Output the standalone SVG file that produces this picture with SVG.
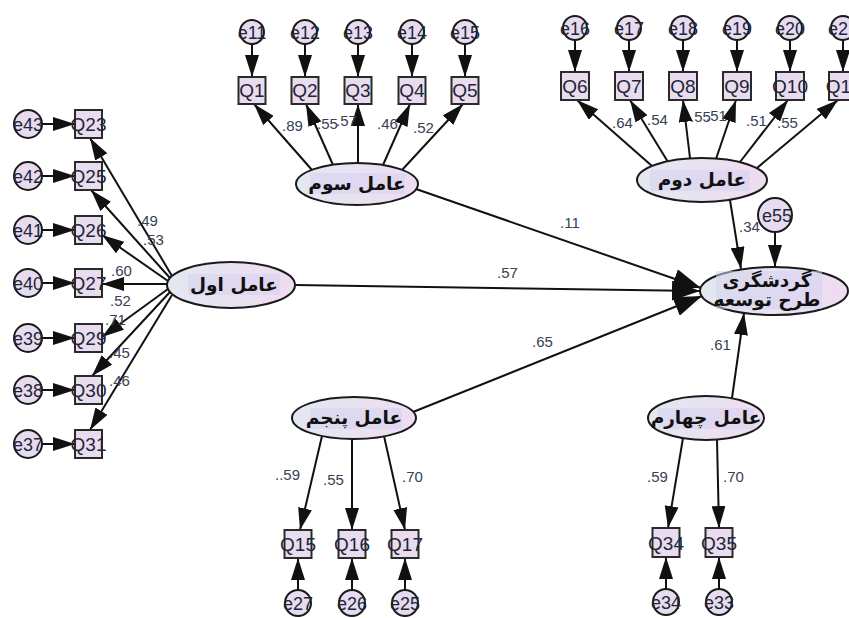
<svg xmlns="http://www.w3.org/2000/svg" width="849" height="618" viewBox="0 0 849 618">
<defs>
<linearGradient id="gEll" x1="0" y1="0" x2="1" y2="0"><stop offset="0" stop-color="#e2e8f2"/><stop offset="1" stop-color="#efdcf0"/></linearGradient>
<marker id="ah" viewBox="0 0 22 14" markerWidth="22" markerHeight="14" refX="22" refY="7" orient="auto" markerUnits="userSpaceOnUse"><path d="M0,0 L22,7 L0,14 z" fill="#111"/></marker>
<marker id="ahL" viewBox="0 0 28 20" markerWidth="28" markerHeight="20" refX="28" refY="10" orient="auto" markerUnits="userSpaceOnUse"><path d="M0,0 L28,10 L0,20 z" fill="#111"/></marker>
</defs>
<style>
.ell{fill:url(#gEll);stroke:#1a1a1a;stroke-width:2}
.err{fill:#e7dcef;stroke:#1a1a1a;stroke-width:2}
.box{fill:#e8dcee;stroke:#2a2a2a;stroke-width:2}
.lbl{font-family:"Liberation Sans",Arial,sans-serif;font-size:19px;fill:#1f2638;text-anchor:middle}
.el{font-family:"Liberation Sans",Arial,sans-serif;font-size:18px;fill:#1f2638;text-anchor:middle}
.num{font-family:"Liberation Sans",Arial,sans-serif;font-size:15px;fill:#3a4055}
.fac{font-family:"DejaVu Sans",sans-serif;font-size:18.5px;font-weight:bold;fill:#111;text-anchor:middle}
.c line{stroke:#111;stroke-width:2;marker-end:url(#ah)}
.c line.L{marker-end:url(#ahL)}
.hl{fill:#d6d1ee;opacity:.55}
</style>
<rect width="849" height="618" fill="#fff"/>

<g id="connectors" class="c">
<line x1="252" y1="44" x2="252" y2="77"/>
<line x1="305" y1="44" x2="305" y2="77"/>
<line x1="358" y1="44" x2="358" y2="77"/>
<line x1="412" y1="44" x2="412" y2="77"/>
<line x1="465" y1="44" x2="465" y2="77"/>
<line x1="312" y1="170" x2="254" y2="104"/>
<line x1="333" y1="165" x2="306" y2="104"/>
<line x1="358" y1="163" x2="358" y2="104"/>
<line x1="383" y1="165" x2="410" y2="104"/>
<line x1="402" y1="170" x2="463" y2="104"/>
<line x1="575" y1="40" x2="575" y2="72"/>
<line x1="629" y1="40" x2="629" y2="72"/>
<line x1="683" y1="40" x2="683" y2="72"/>
<line x1="737" y1="40" x2="737" y2="72"/>
<line x1="790" y1="40" x2="790" y2="72"/>
<line x1="843" y1="40" x2="843" y2="72"/>
<line x1="652" y1="166" x2="577" y2="100"/>
<line x1="668" y1="162" x2="630" y2="100"/>
<line x1="690" y1="158" x2="683" y2="100"/>
<line x1="716" y1="159" x2="736" y2="100"/>
<line x1="740" y1="162" x2="788" y2="100"/>
<line x1="757" y1="168" x2="838" y2="100"/>
<line x1="42" y1="124" x2="75" y2="124"/>
<line x1="42" y1="176" x2="75" y2="176"/>
<line x1="42" y1="230" x2="75" y2="230"/>
<line x1="42" y1="283" x2="75" y2="283"/>
<line x1="42" y1="338" x2="75" y2="338"/>
<line x1="42" y1="390" x2="75" y2="390"/>
<line x1="42" y1="444" x2="75" y2="444"/>
<line x1="172" y1="276" x2="90" y2="138"/>
<line x1="170" y1="278" x2="91" y2="190"/>
<line x1="168" y1="281" x2="102" y2="235"/>
<line x1="167" y1="284" x2="102" y2="284"/>
<line x1="168" y1="289" x2="102" y2="337"/>
<line x1="170" y1="292" x2="92" y2="376"/>
<line x1="172" y1="295" x2="90" y2="430"/>
<line class="L" x1="416" y1="189" x2="701" y2="288"/>
<line class="L" x1="295" y1="285" x2="700" y2="291"/>
<line class="L" x1="413" y1="412" x2="702" y2="296"/>
<line x1="730" y1="200" x2="741" y2="269"/>
<line x1="775" y1="232" x2="775" y2="267"/>
<line x1="732" y1="398" x2="744" y2="313"/>
<line x1="322" y1="436" x2="300" y2="530"/>
<line x1="352" y1="439" x2="352" y2="530"/>
<line x1="384" y1="436" x2="405" y2="530"/>
<line x1="298" y1="590" x2="298" y2="558"/>
<line x1="352" y1="590" x2="352" y2="558"/>
<line x1="405" y1="590" x2="405" y2="558"/>
<line x1="683" y1="438" x2="668" y2="528"/>
<line x1="717" y1="440" x2="719" y2="528"/>
<line x1="666" y1="589" x2="666" y2="557"/>
<line x1="719" y1="589" x2="719" y2="557"/>
</g>

<g id="coef" class="num">
<text x="282" y="131">.89</text>
<text x="317" y="129">.55</text>
<text x="336" y="126">.57</text>
<text x="377" y="129">.46</text>
<text x="413" y="133">.52</text>
<text x="612" y="128">.64</text>
<text x="647" y="125">.54</text>
<text x="690" y="122">.55</text>
<text x="706" y="121">.51</text>
<text x="746" y="126">.51</text>
<text x="777" y="128">.55</text>
<text x="137" y="226">.49</text>
<text x="143" y="245">.53</text>
<text x="111" y="276">.60</text>
<text x="110" y="306">.52</text>
<text x="105" y="325">.71</text>
<text x="109" y="358">.45</text>
<text x="109" y="386">.46</text>
<text x="560" y="228">.11</text>
<text x="497" y="278">.57</text>
<text x="532" y="347">.65</text>
<text x="739" y="232">.34</text>
<text x="710" y="350">.61</text>
<text x="275" y="480">..59</text>
<text x="323" y="485">.55</text>
<text x="402" y="482">.70</text>
<text x="647" y="482">.59</text>
<text x="723" y="482">.70</text>
</g>

<g id="f1"><ellipse class="ell" cx="231" cy="285" rx="64" ry="23"/><rect class="hl" x="188" y="274" width="92" height="21"/><text class="fac" x="234" y="291">عامل اول</text></g>
<g id="f3"><ellipse class="ell" cx="357" cy="184" rx="61" ry="21"/><rect class="hl" x="310" y="173" width="95" height="21"/><text class="fac" x="357" y="190">عامل سوم</text></g>
<g id="f2"><ellipse class="ell" cx="702" cy="180" rx="65" ry="22"/><rect class="hl" x="650" y="170" width="100" height="21"/><text class="fac" x="702" y="186">عامل دوم</text></g>
<g id="f5"><ellipse class="ell" cx="354" cy="418" rx="62" ry="21"/><rect class="hl" x="310" y="408" width="92" height="21"/><text class="fac" x="354" y="424">عامل پنجم</text></g>
<g id="f4"><ellipse class="ell" cx="706" cy="418" rx="58" ry="22"/><rect class="hl" x="658" y="408" width="96" height="21"/><text class="fac" x="706" y="424">عامل چهارم</text></g>
<g id="target"><ellipse class="ell" cx="774" cy="291" rx="74" ry="24"/><rect class="hl" x="716" y="271" width="106" height="38"/><text class="fac" x="767" y="287">گردشگری</text><text class="fac" x="767" y="306">طرح توسعه</text></g>
<g id="e55"><circle class="err" cx="775" cy="215" r="17"/><text class="el" x="777" y="222">e55</text></g>

<g id="n-e11"><circle class="err" cx="252" cy="32" r="12"/><text class="el" x="252" y="39">e11</text></g>
<g id="n-e12"><circle class="err" cx="305" cy="32" r="12"/><text class="el" x="305" y="39">e12</text></g>
<g id="n-e13"><circle class="err" cx="358" cy="32" r="12"/><text class="el" x="358" y="39">e13</text></g>
<g id="n-e14"><circle class="err" cx="412" cy="32" r="12"/><text class="el" x="412" y="39">e14</text></g>
<g id="n-e15"><circle class="err" cx="465" cy="32" r="12"/><text class="el" x="465" y="39">e15</text></g>
<g id="n-Q1"><rect class="box" x="238.5" y="77" width="27" height="27"/><text class="lbl" x="252" y="97">Q1</text></g>
<g id="n-Q2"><rect class="box" x="291.5" y="77" width="27" height="27"/><text class="lbl" x="305" y="97">Q2</text></g>
<g id="n-Q3"><rect class="box" x="344.5" y="77" width="27" height="27"/><text class="lbl" x="358" y="97">Q3</text></g>
<g id="n-Q4"><rect class="box" x="398.5" y="77" width="27" height="27"/><text class="lbl" x="412" y="97">Q4</text></g>
<g id="n-Q5"><rect class="box" x="451.5" y="77" width="27" height="27"/><text class="lbl" x="465" y="97">Q5</text></g>

<g id="n-e16"><circle class="err" cx="575" cy="28" r="12"/><text class="el" x="575" y="35">e16</text></g>
<g id="n-e17"><circle class="err" cx="629" cy="28" r="12"/><text class="el" x="629" y="35">e17</text></g>
<g id="n-e18"><circle class="err" cx="683" cy="28" r="12"/><text class="el" x="683" y="35">e18</text></g>
<g id="n-e19"><circle class="err" cx="737" cy="28" r="12"/><text class="el" x="737" y="35">e19</text></g>
<g id="n-e20"><circle class="err" cx="790" cy="28" r="12"/><text class="el" x="790" y="35">e20</text></g>
<g id="n-e21"><circle class="err" cx="843" cy="28" r="12"/><text class="el" x="843" y="35">e21</text></g>
<g id="n-Q6"><rect class="box" x="561" y="72" width="28" height="28"/><text class="lbl" x="575" y="93">Q6</text></g>
<g id="n-Q7"><rect class="box" x="615" y="72" width="28" height="28"/><text class="lbl" x="629" y="93">Q7</text></g>
<g id="n-Q8"><rect class="box" x="669" y="72" width="28" height="28"/><text class="lbl" x="683" y="93">Q8</text></g>
<g id="n-Q9"><rect class="box" x="723" y="72" width="28" height="28"/><text class="lbl" x="737" y="93">Q9</text></g>
<g id="n-Q10"><rect class="box" x="776" y="72" width="28" height="28"/><text class="lbl" x="790" y="93">Q10</text></g>
<g id="n-Q11"><rect class="box" x="829" y="72" width="28" height="28"/><text class="lbl" x="843" y="93">Q11</text></g>

<g id="n-e43"><circle class="err" cx="28" cy="124" r="14"/><text class="el" x="28" y="130.5">e43</text></g>
<g id="n-e42"><circle class="err" cx="28" cy="176" r="14"/><text class="el" x="28" y="182.5">e42</text></g>
<g id="n-e41"><circle class="err" cx="28" cy="230" r="14"/><text class="el" x="28" y="236.5">e41</text></g>
<g id="n-e40"><circle class="err" cx="28" cy="283" r="14"/><text class="el" x="28" y="289.5">e40</text></g>
<g id="n-e39"><circle class="err" cx="28" cy="338" r="14"/><text class="el" x="28" y="344.5">e39</text></g>
<g id="n-e38"><circle class="err" cx="28" cy="390" r="14"/><text class="el" x="28" y="396.5">e38</text></g>
<g id="n-e37"><circle class="err" cx="28" cy="444" r="14"/><text class="el" x="28" y="450.5">e37</text></g>
<g id="n-Q23"><rect class="box" x="75" y="110" width="27" height="28"/><text class="lbl" x="88.5" y="131">Q23</text></g>
<g id="n-Q25"><rect class="box" x="75" y="162" width="27" height="28"/><text class="lbl" x="88.5" y="183">Q25</text></g>
<g id="n-Q26"><rect class="box" x="75" y="216" width="27" height="28"/><text class="lbl" x="88.5" y="237">Q26</text></g>
<g id="n-Q27"><rect class="box" x="75" y="269" width="27" height="28"/><text class="lbl" x="88.5" y="290">Q27</text></g>
<g id="n-Q29"><rect class="box" x="75" y="324" width="27" height="28"/><text class="lbl" x="88.5" y="345">Q29</text></g>
<g id="n-Q30"><rect class="box" x="75" y="376" width="27" height="28"/><text class="lbl" x="88.5" y="397">Q30</text></g>
<g id="n-Q31"><rect class="box" x="75" y="430" width="27" height="28"/><text class="lbl" x="88.5" y="451">Q31</text></g>

<g id="n-Q15"><rect class="box" x="284.5" y="530" width="27" height="28"/><text class="lbl" x="298" y="551">Q15</text></g>
<g id="n-Q16"><rect class="box" x="338.5" y="530" width="27" height="28"/><text class="lbl" x="352" y="551">Q16</text></g>
<g id="n-Q17"><rect class="box" x="391.5" y="530" width="27" height="28"/><text class="lbl" x="405" y="551">Q17</text></g>
<g id="n-e27"><circle class="err" cx="298" cy="603" r="13"/><text class="el" x="298" y="610">e27</text></g>
<g id="n-e26"><circle class="err" cx="352" cy="603" r="13"/><text class="el" x="352" y="610">e26</text></g>
<g id="n-e25"><circle class="err" cx="405" cy="603" r="13"/><text class="el" x="405" y="610">e25</text></g>

<g id="n-Q34"><rect class="box" x="652.5" y="528" width="27" height="29"/><text class="lbl" x="666" y="549.5">Q34</text></g>
<g id="n-Q35"><rect class="box" x="705.5" y="528" width="27" height="29"/><text class="lbl" x="719" y="549.5">Q35</text></g>
<g id="n-e34"><circle class="err" cx="666" cy="602" r="13"/><text class="el" x="666" y="609">e34</text></g>
<g id="n-e33"><circle class="err" cx="719" cy="602" r="13"/><text class="el" x="719" y="609">e33</text></g>
</svg>
